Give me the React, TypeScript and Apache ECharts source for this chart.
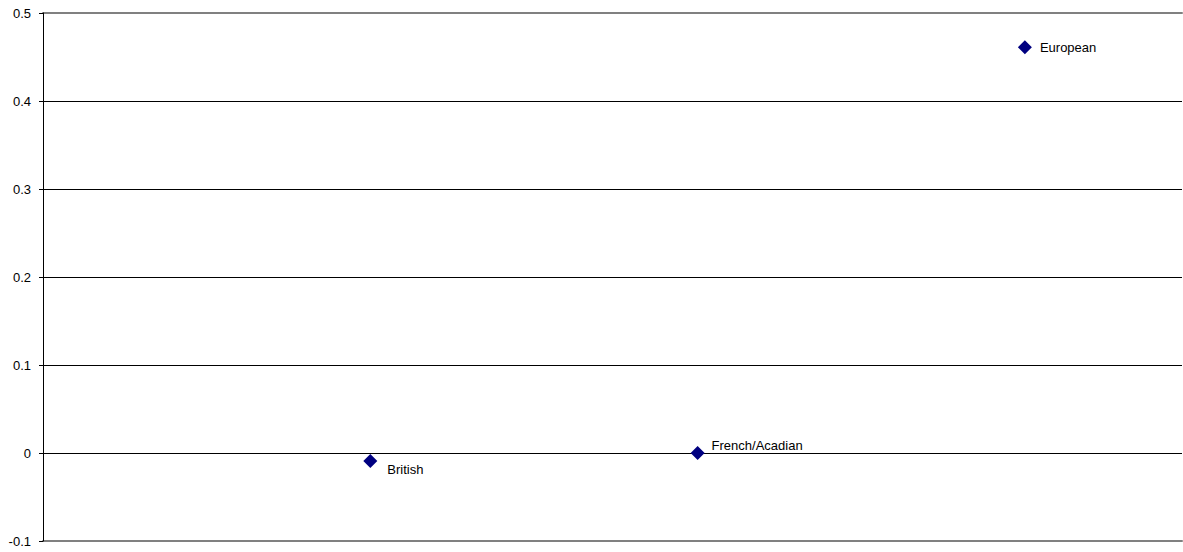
import React, { useEffect, useRef } from "react";
import * as echarts from "echarts";

// Groups and their plotted values
const groups = ["British", "French/Acadian", "European"];
const xValues = [1, 2, 3];
const yValues = [-0.009, 0.0, 0.461];

// Y axis range and step
const yMin = -0.1;
const yMax = 0.5;
const yStep = 0.1;

// Per-label placement relative to its marker
const labelOffsets: [number, number][] = [
  [2, 9],
  [-1, -8],
  [0, 0],
];

export default function App() {
  const ref = useRef<HTMLDivElement>(null);

  useEffect(() => {
    if (!ref.current) return;
    const chart = echarts.init(ref.current, null, { renderer: "svg" });
    const font = "'Liberation Sans', Arial, sans-serif";

    chart.setOption({
      animation: false,
      backgroundColor: "#ffffff",
      grid: { left: 43, right: 1, top: 13, bottom: 11, containLabel: false },
      xAxis: [
        {
          type: "value",
          min: 0,
          max: 3.48,
          position: "bottom",
          z: 5,
          axisLine: { show: true, onZero: false, lineStyle: { color: "#808080", width: 2 } },
          axisTick: { show: false },
          axisLabel: { show: false },
          splitLine: { show: false },
        },
        {
          type: "value",
          min: 0,
          max: 3.48,
          position: "top",
          z: 5,
          axisLine: { show: true, onZero: false, lineStyle: { color: "#808080", width: 2 } },
          axisTick: { show: false },
          axisLabel: { show: false },
          splitLine: { show: false },
        },
      ],
      yAxis: {
        type: "value",
        min: yMin,
        max: yMax,
        interval: yStep,
        z: 6,
        axisLine: { show: true, lineStyle: { color: "#000000", width: 1 } },
        axisTick: { show: true, length: 4, inside: false, lineStyle: { color: "#000000" } },
        axisLabel: {
          color: "#000000",
          fontFamily: font,
          fontSize: 13,
          margin: 12,
          formatter: (v: number) => {
            const r = Math.round(v * 10) / 10;
            return r === 0 ? "0" : String(r);
          },
        },
        splitLine: {
          show: true,
          lineStyle: {
            color: ["#808080", "#000000", "#000000", "#000000", "#000000", "#000000", "#808080"],
            width: 1,
          },
        },
      },
      series: [
        {
          type: "scatter",
          xAxisIndex: 0,
          symbol: "diamond",
          symbolSize: 14,
          z: 10,
          itemStyle: { color: "#000080", opacity: 1 },
          data: groups.map((g, i) => ({
            name: g,
            value: [xValues[i], yValues[i]],
            label: {
              show: true,
              position: "right",
              distance: 8,
              offset: labelOffsets[i],
              formatter: g,
              color: "#000000",
              fontFamily: font,
              fontSize: 13,
            },
          })),
        },
      ],
    });

    return () => chart.dispose();
  }, []);

  return (
    <div
      ref={ref}
      style={{ position: "absolute", left: 0, top: 0, width: 1183, height: 552 }}
    />
  );
}
